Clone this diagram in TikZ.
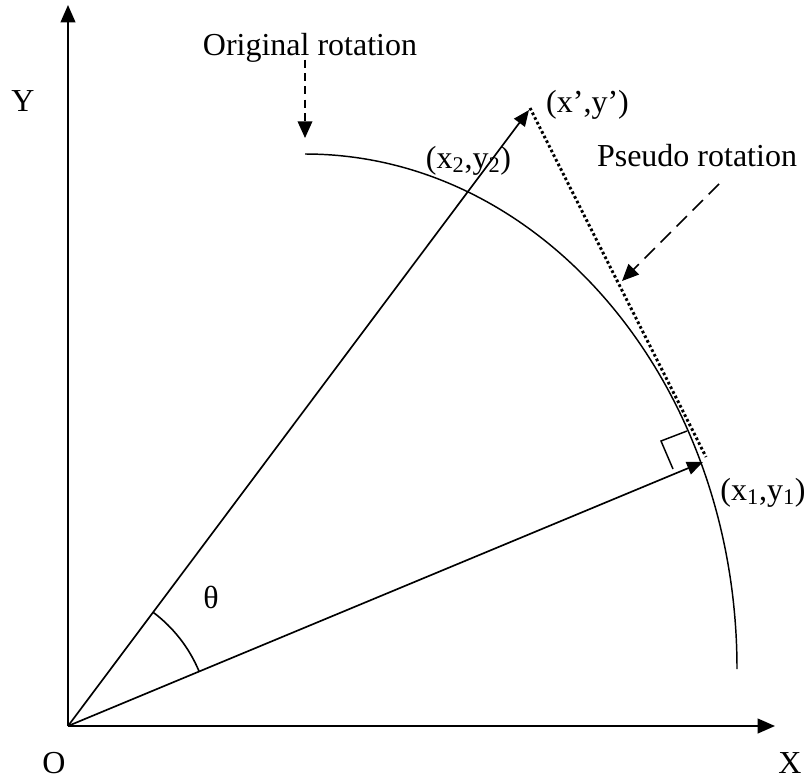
\documentclass[tikz,border=0pt]{standalone}
\usepackage{fontspec}
\setmainfont{Liberation Serif}
\usetikzlibrary{arrows.meta}
\begin{document}
\begin{tikzpicture}[x=0.75pt,y=-0.75pt,
  lbl/.style={anchor=base,inner sep=0pt,font=\fontsize{24}{28}\selectfont},
  axis/.style={line width=1.5pt,-{Triangle[length=13pt,width=11pt]}},
  vec/.style={line width=1.25pt,-{Triangle[length=12pt,width=10pt]}},
  callout/.style={line width=1.1pt,-{Triangle[length=12.5pt,width=11pt]}},
  thin arc/.style={line width=1.1pt},
  dots/.style={line width=2.2pt,dash pattern=on 2pt off 1.9pt}]
\useasboundingbox (0,0) rectangle (806,778);
% key points
\coordinate (O) at (68,726);
\coordinate (Xend) at (775,726);
\coordinate (Yend) at (68,5);
\coordinate (P1) at (703,462);
\coordinate (P2) at (529,110);
\coordinate (D1) at (706,457);
\coordinate (D2) at (530,108);
\coordinate (ArcTop) at (305,154);
\coordinate (ThStart) at (199.1,671.4);
\coordinate (RA1) at (673,469);
\coordinate (RA2) at (661,441);
\coordinate (RA3) at (687,431);
\coordinate (OrigFrom) at (305,33);
\coordinate (OrigTo) at (305,138);
\coordinate (PsFrom) at (719,184);
\coordinate (PsTo) at (622,281);
% axes
\draw[axis] (O) -- (Xend);
\draw[axis] (O) -- (Yend);
% vectors
\draw[vec] (O) -- (P1);
\draw[vec] (O) -- (P2);
% elliptical arc
\draw[thin arc] (ArcTop) arc[start angle=90,end angle=0,x radius=324pt,y radius=386.25pt];
% pseudo rotation dotted line
\draw[dots] (D2) -- (D1);
% right angle mark
\draw[line width=1.1pt] (RA1) -- (RA2) -- (RA3);
% theta arc
\draw[line width=1.2pt] (ThStart) arc[start angle=22.57,end angle=53.18,radius=106.5pt];
% callout arrows
\draw[callout,dash pattern=on 6pt off 4pt] (OrigFrom) -- (OrigTo);
\draw[callout,dash pattern=on 11pt off 6pt] (PsFrom) -- (PsTo);
% labels
\node[lbl] (ly) at (23,111) {Y};
\node[lbl] (lo) at (54,773) {O};
\node[lbl] (lx) at (790,773) {X};
\node[lbl] (lorig) at (310,55) {Original rotation};
\node[lbl] (lps) at (697,166) {Pseudo rotation};
\node[lbl] (lxp) at (587.5,112) {(x’,y’)};
\node[lbl] (lx2) at (468.5,168) {(x\textsubscript{2},y\textsubscript{2})};
\node[lbl] (lx1) at (763,500) {(x\textsubscript{1},y\textsubscript{1})};
\node[lbl] (lth) at (211,608) {θ};
\end{tikzpicture}
\end{document}
